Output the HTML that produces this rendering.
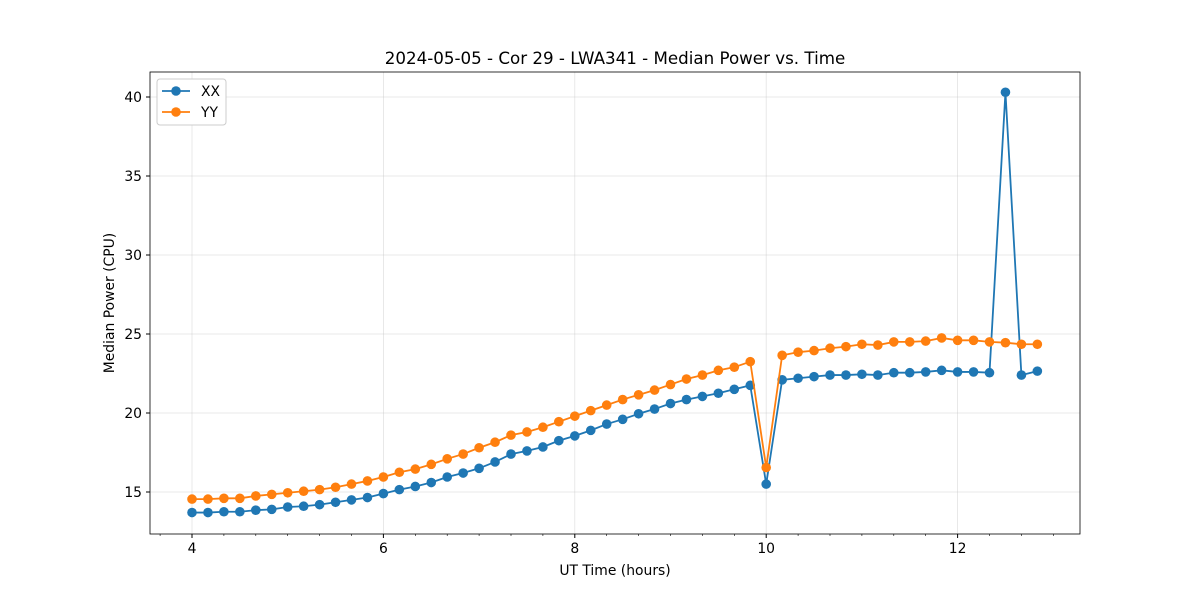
<!DOCTYPE html>
<html><head><meta charset="utf-8"><style>body{margin:0;background:#fff}svg{display:block;font-family:"DejaVu Sans","Liberation Sans",sans-serif}</style></head>
<body>
<svg id="c" width="1200" height="600"></svg>
<script>
const xx = [13.7,13.7,13.75,13.75,13.85,13.9,14.05,14.1,14.2,14.35,14.5,14.65,14.9,15.15,15.35,15.6,15.95,16.2,16.5,16.9,17.4,17.6,17.85,18.25,18.55,18.9,19.3,19.6,19.95,20.25,20.6,20.85,21.05,21.25,21.5,21.75,15.5,22.1,22.2,22.3,22.4,22.4,22.45,22.4,22.55,22.55,22.6,22.7,22.6,22.6,22.55,40.3,22.4,22.65];
const yy = [14.55,14.55,14.6,14.6,14.75,14.85,14.95,15.05,15.15,15.3,15.5,15.7,15.95,16.25,16.45,16.75,17.1,17.4,17.8,18.15,18.6,18.8,19.1,19.45,19.8,20.15,20.5,20.85,21.15,21.45,21.8,22.15,22.4,22.7,22.9,23.25,16.55,23.65,23.85,23.95,24.1,24.2,24.35,24.3,24.5,24.5,24.55,24.75,24.6,24.6,24.5,24.45,24.35,24.35];
const times = xx.map((_, i) => 4 + i / 6);
const xTicks = [4, 6, 8, 10, 12];
const yTicks = [15, 20, 25, 30, 35, 40];
const NS = "http://www.w3.org/2000/svg";
const svg = document.getElementById("c");
const L = 150, R = 1080, T = 72, B = 534;
const sx = v => 192 + (v - 4) * 95.7;
const sy = v => 492 - (v - 15) * 15.8;
function el(tag, attrs, parent) { const e = document.createElementNS(NS, tag); for (const k in attrs) e.setAttribute(k, attrs[k]); (parent || svg).appendChild(e); return e; }
function txt(x, y, s, attrs, parent) { const t = el("text", Object.assign({x, y, "font-size": 13.9, fill: "#000"}, attrs), parent); t.textContent = s; return t; }
const grid = el("g", {});


xTicks.forEach(v => { el("line", {x1: sx(v), x2: sx(v), y1: T, y2: B, stroke: "#b0b0b0", "stroke-opacity": 0.35, "stroke-width": 0.8}, grid); });
yTicks.forEach(v => { el("line", {x1: L, x2: R, y1: sy(v), y2: sy(v), stroke: "#b0b0b0", "stroke-opacity": 0.35, "stroke-width": 0.8}, grid); });
const axes = el("g", {});


xTicks.forEach(v => { el("line", {x1: sx(v), x2: sx(v), y1: B, y2: B + 4, stroke: "#000"}, axes); const t = txt(sx(v), B + 19, String(v), {"text-anchor": "middle"});   });
for (let k = 0; k < 29; k++) { const v = 3 + 2 / 3 + k / 3; if (Math.abs(v - Math.round(v)) < 0.01 && Math.round(v) % 2 === 0) continue; if (sx(v) > R) break; el("line", {x1: sx(v), x2: sx(v), y1: B, y2: B + 2, stroke: "#000", "stroke-width": 0.6}, axes); }
yTicks.forEach(v => { el("line", {x1: L - 4, x2: L, y1: sy(v), y2: sy(v), stroke: "#000"}, axes); const t = txt(L - 8, sy(v) + 5, String(v), {"text-anchor": "end"});   });
el("rect", {x: L, y: T, width: R - L, height: B - T, fill: "none", stroke: "#000", "stroke-width": 0.8}, axes);
function series(vals, color, name) {
  const g = el("g", {});
  
  
  el("polyline", {points: vals.map((v, i) => sx(times[i]) + "," + sy(v)).join(" "), fill: "none", stroke: color, "stroke-width": 1.8}, g);
  vals.forEach((v, i) => { const c = el("circle", {cx: sx(times[i]), cy: sy(v), r: 4.8, fill: color}, g);   });
}
series(xx, "#1f77b4", "series-xx");
series(yy, "#ff7f0e", "series-yy");
const title = txt(615, 64, "2024-05-05 - Cor 29 - LWA341 - Median Power vs. Time", {"text-anchor": "middle", "font-size": 16.7});
 
const xl = txt(615, 575, "UT Time (hours)", {"text-anchor": "middle"});
 
const yl = txt(0, 0, "Median Power (CPU)", {"text-anchor": "middle", transform: "translate(114 303) rotate(-90)"});
 
const lg = el("g", {});


el("rect", {x: 157, y: 79, width: 69, height: 46, rx: 3, fill: "#fff", stroke: "#ccc"}, lg);
[["XX", "#1f77b4", 91], ["YY", "#ff7f0e", 112]].forEach(([n, c, y]) => {
  const e = el("g", {}, lg);
  
  
  el("line", {x1: 162, x2: 190, y1: y, y2: y, stroke: c, "stroke-width": 1.8}, e);
  el("circle", {cx: 176, cy: y, r: 4.8, fill: c}, e);
  txt(201, y + 5, n, {}, e);
});
</script>
</body></html>
